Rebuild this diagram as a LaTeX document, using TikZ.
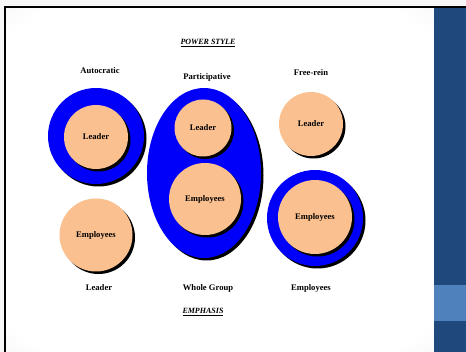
\documentclass[tikz,border=0pt]{standalone}
\usepackage{fontspec}
\setmainfont{Liberation Serif}
\usepackage{xcolor}
\usetikzlibrary{shapes.geometric,shadows}
\definecolor{peach}{RGB}{250,192,143}
\definecolor{ringblue}{RGB}{0,0,250}
\definecolor{panelblue}{RGB}{31,73,125}
\definecolor{bandblue}{RGB}{79,129,189}
\pgfdeclareradialshading{vignette}{\pgfpoint{0bp}{0bp}}{color(0bp)=(white); color(32bp)=(white); color(50bp)=(gray!22); color(72bp)=(gray!55)}
\tikzset{
  shd/.style={general shadow={fill=black,shadow xshift=2.5pt,shadow yshift=-2.5pt}},
  ring/.style={circle,fill=ringblue,inner sep=0pt,minimum size=96pt,shd},
  wholegrp/.style={ellipse,fill=ringblue,inner sep=0pt,minimum width=114pt,minimum height=170pt,shd},
  member/.style={circle,fill=peach,inner sep=0pt,shd,font=\fontsize{8.6}{10}\selectfont\bfseries},
  head/.style={font=\fontsize{8.6}{10}\selectfont\bfseries},
  ttl/.style={font=\fontsize{8}{10}\selectfont\bfseries\itshape}
}
\begin{document}
\begin{tikzpicture}[x=1pt,y=-1pt]
  \useasboundingbox (0,0) rectangle (466,352);
  % slide background
  \fill[gray!6] (0,0) rectangle (466,352);
  \shade[shading=vignette] (6,8) rectangle (434,352);
  \fill[panelblue] (434,8) rectangle (466,352);
  \fill[bandblue] (434,285) rectangle (466,321);
  \draw[line width=2pt] (4,7) -- (466,7);
  \draw[line width=2pt] (5,7) -- (5,352);

  \node[ttl] (power) at (208,43) {\underline{POWER STYLE}};
  \node[head] (auto) at (100,71) {Autocratic};
  \node[head] (part) at (207,77) {Participative};
  \node[head] (free) at (311,73) {Free-rein};

  % autocratic
  \node[ring] (ra) at (96,136) {};
  \node[member,minimum size=64pt] (la) at (96,137) {Leader};
  \node[member,minimum size=73pt] (ea) at (96,235) {Employees};

  % participative
  \node[wholegrp] (rp) at (204,173) {};
  \node[member,minimum size=57pt] (lp) at (203,128) {Leader};
  \node[member,minimum size=72pt] (ep) at (205,199) {Employees};

  % free-rein
  \node[member,minimum size=64pt] (lf) at (311,124) {Leader};
  \node[ring] (rf) at (315,218) {};
  \node[member,minimum size=74pt] (ef) at (315,217) {Employees};

  \node[head] (bl) at (99,288) {Leader};
  \node[head] (bw) at (208,288) {Whole Group};
  \node[head] (be) at (311,288) {Employees};
  \node[ttl] (emph) at (203,312) {\underline{EMPHASIS}};
\end{tikzpicture}
\end{document}
